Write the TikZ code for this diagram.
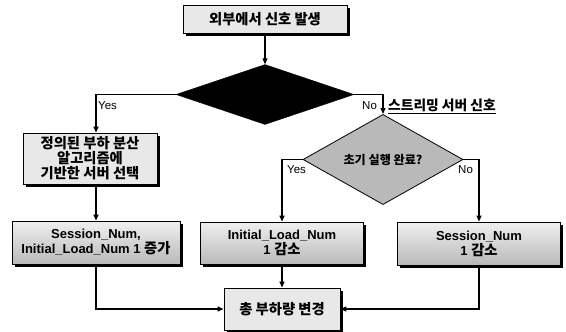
\documentclass[tikz,border=0pt]{standalone}
\usepackage{fontspec}
\setmainfont{Liberation Sans}
\newfontfamily\kr{Noto Sans CJK KR}[Scale=1.1]
\usetikzlibrary{shapes.geometric,arrows.meta,shadows}
\newcommand{\ko}[1]{{\kr\bfseries #1}}
\tikzset{
  sbox/.style={draw=black, line width=0.8pt, fill=gray!18, inner sep=1pt, align=center,
    font=\bfseries\fontsize{13}{15}\selectfont,
    drop shadow={fill=black, opacity=1, shadow xshift=2.5pt, shadow yshift=-2.5pt}},
  gbox/.style={sbox, top color=gray!12, bottom color=gray!55},
  arr/.style={-{Triangle[length=6pt,width=5pt]}, line width=1.2pt},
  lbl/.style={inner sep=0pt, font=\fontsize{11.5}{13}\selectfont, anchor=west}
}
\begin{document}
\begin{tikzpicture}[x=1pt,y=-1pt]
\useasboundingbox[fill=white] (0,0) rectangle (566,332);
\node[sbox, minimum width=164pt, minimum height=28pt] (top) at (265,19) {\ko{외부에서 신호 발생}};
\node[diamond, draw=black, fill=black, minimum width=178pt, minimum height=60pt, inner sep=0pt] (d1) at (265,94.5) {};
\node[sbox, minimum width=134pt, minimum height=51pt] (lb) at (90,158.5) {\ko{정의된 부하 분산}\\\ko{알고리즘에}\\\ko{기반한 서버 선택}};
\node[diamond, draw=black, line width=0.8pt, fill=gray!55, minimum width=160pt, minimum height=55pt, inner sep=0pt,
  font=\fontsize{11}{13}\selectfont] (d2) at (383,159.5) {\ko{초기 실행 완료?}};
\node[gbox, minimum width=168pt, minimum height=43pt] (b1) at (96,242.5) {Session\_Num,\\Initial\_Load\_Num 1 \ko{증가}};
\node[gbox, minimum width=163pt, minimum height=42pt] (b2) at (282,243) {Initial\_Load\_Num\\1 \ko{감소}};
\node[gbox, minimum width=163pt, minimum height=43pt] (b3) at (479,243.5) {Session\_Num\\1 \ko{감소}};
\node[sbox, minimum width=116pt, minimum height=42pt] (fin) at (282,309) {\ko{총 부하량 변경}};

\draw[arr] (top.south) -- (d1.north);
\draw[arr] (d1.west) -| ([xshift=6pt]lb.north);
\draw[arr] (d1.east) -| (d2.north);
\draw[arr] ([xshift=6pt]lb.south) -- (b1.north);
\draw[arr] (d2.west) -| (b2.north);
\draw[arr] (d2.east) -| (b3.north);
\draw[arr] (b1.south) |- (fin.west);
\draw[arr] (b2.south) -- (fin.north);
\draw[arr] (b3.south) |- (fin.east);

\node[lbl] (yes1) at (98,106) {Yes};
\node[lbl] (no1) at (362,106) {No};
\node[lbl, font=\fontsize{12.5}{14}\selectfont] (sig) at (388,106) {\underline{\ko{스트리밍 서버 신호}}};
\node[lbl] (yes2) at (287,170) {Yes};
\node[lbl] (no2) at (458,170) {No};
\end{tikzpicture}
\end{document}
